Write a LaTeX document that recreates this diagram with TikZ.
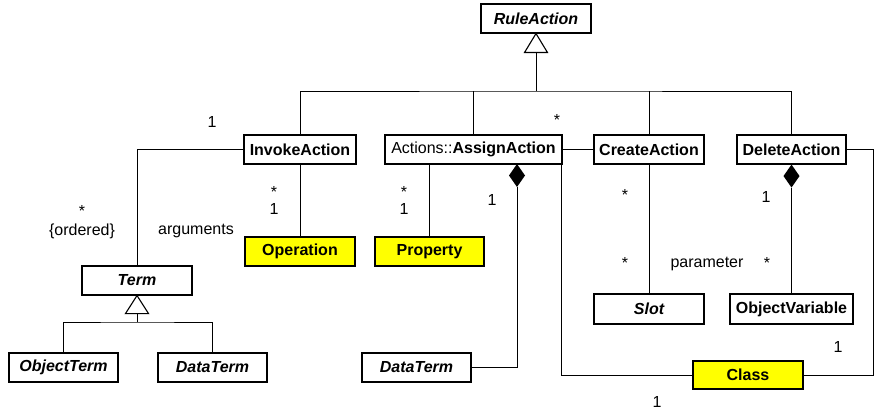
\documentclass[tikz,border=0pt]{standalone}
\usepackage{fontspec}
\setmainfont{Liberation Sans}
\usetikzlibrary{calc}
\definecolor{clsyellow}{HTML}{FFFF00}
\tikzset{
  cls/.style={draw, line width=1.1pt, fill=white, inner sep=0pt, minimum height=29pt,
              font=\fontsize{16}{19}\selectfont\bfseries},
  abstractcls/.style={cls, font=\fontsize{16}{19}\selectfont\bfseries\itshape},
  hilite/.style={fill=clsyellow},
  conn/.style={line width=0.9pt},
  mult/.style={inner sep=0pt, anchor=base, font=\fontsize{16}{19}\selectfont},
  gentri/.style={draw, line width=1.1pt, fill=white},
  compdia/.style={fill=black}
}
\begin{document}
\begin{tikzpicture}[x=1pt, y=-1pt]
\fill[white] (0,0) rectangle (875,412);
\useasboundingbox (0,0) rectangle (875,412);

% classes
\node[abstractcls, minimum width=110pt] (ruleaction) at (536,18.5) {RuleAction};
\node[cls, minimum width=112pt] (invoke) at (300,149.5) {InvokeAction};
\node[cls, minimum width=177pt] (assign) at (473.5,149.5) {\mdseries Actions::\bfseries AssignAction};
\node[cls, minimum width=110pt] (create) at (649,149.5) {CreateAction};
\node[cls, minimum width=109pt] (delete) at (791.5,149.5) {DeleteAction};
\node[cls, hilite, minimum width=110pt] (operation) at (300,251.5) {Operation};
\node[cls, hilite, minimum width=109pt] (property) at (429.5,251.5) {Property};
\node[abstractcls, minimum width=110pt] (term) at (137,280.5) {Term};
\node[abstractcls, minimum width=110pt, minimum height=30pt] (slot) at (649,309) {Slot};
\node[cls, minimum width=123pt, minimum height=30pt] (objvar) at (791.5,309) {ObjectVariable};
\node[abstractcls, minimum width=109pt] (objterm) at (63.5,367.5) {ObjectTerm};
\node[abstractcls, minimum width=109pt] (dataterm) at (212.5,367.5) {DataTerm};
\node[abstractcls, minimum width=109pt] (dataterm2) at (416.5,367.5) {DataTerm};
\node[cls, hilite, minimum width=110pt, minimum height=28pt] (class) at (748,375) {Class};

% generalization of the rule actions
\coordinate (rtip) at (ruleaction.south);
\coordinate (rbase) at ($(rtip)+(0,19)$);
\coordinate (rbar) at (536,91);
\draw[conn] (rbase) -- (rbar);
\draw[conn] (invoke.north) |- (rbar) -| (delete.north);
\draw[conn] (assign.north) -- (assign.north |- rbar);
\draw[conn] (create.north) -- (create.north |- rbar);
\draw[gentri] (rtip) -- ($(rtip)+(-11.5,19)$) -- ($(rtip)+(11.5,19)$) -- cycle;

% generalization of the terms
\coordinate (ttip) at (term.south);
\coordinate (tbase) at ($(ttip)+(0,18)$);
\coordinate (tbar) at (137,322);
\draw[conn] (tbase) -- (tbar);
\draw[conn] (objterm.north) |- (tbar) -| (dataterm.north);
\draw[gentri] (ttip) -- ($(ttip)+(-11.5,18)$) -- ($(ttip)+(11.5,18)$) -- cycle;

% associations
\draw[conn] (invoke.west) -| (term.north);
\draw[conn] (invoke.south) -- (operation.north);
\draw[conn] (property.north) -- (property.north |- assign.south);
\draw[conn] (create.south) -- (slot.north);
\draw[conn] (create.west) -- (assign.east);
\draw[conn] ($(assign.east)+(-1,0)$) |- (class.west);
\draw[conn] (delete.east) -- ++(27,0) |- (class.east);

% compositions
\coordinate (adia) at (517,164);
\draw[conn] (dataterm2.east) -| ($(adia)+(0,23)$);
\fill[compdia] (adia) -- ++(8,11.5) -- ++(-8,11.5) -- ++(-8,-11.5) -- cycle;
\coordinate (ddia) at (delete.south);
\draw[conn] ($(ddia)+(0,23)$) -- (objvar.north);
\fill[compdia] (ddia) -- ++(8,11.5) -- ++(-8,11.5) -- ++(-8,-11.5) -- cycle;

% multiplicities and role names
\node[mult] (m1) at (212,127) {1};
\node[mult] (m2) at (82,216.5) {*};
\node[mult] (m3) at (82,235) {\{ordered\}};
\node[mult] (m4) at (196,234) {arguments};
\node[mult] (m5) at (274,197.5) {*};
\node[mult] (m6) at (274,214) {1};
\node[mult] (m7) at (404,197.5) {*};
\node[mult] (m8) at (404,214) {1};
\node[mult] (m9) at (492,205.5) {1};
\node[mult] (m10) at (557,125.5) {*};
\node[mult] (m11) at (625,200.5) {*};
\node[mult] (m12) at (766,202) {1};
\node[mult] (m13) at (625,268.5) {*};
\node[mult] (m14) at (707,267) {parameter};
\node[mult] (m15) at (767,268.5) {*};
\node[mult] (m16) at (838,352) {1};
\node[mult] (m17) at (657,407) {1};
\end{tikzpicture}
\end{document}
